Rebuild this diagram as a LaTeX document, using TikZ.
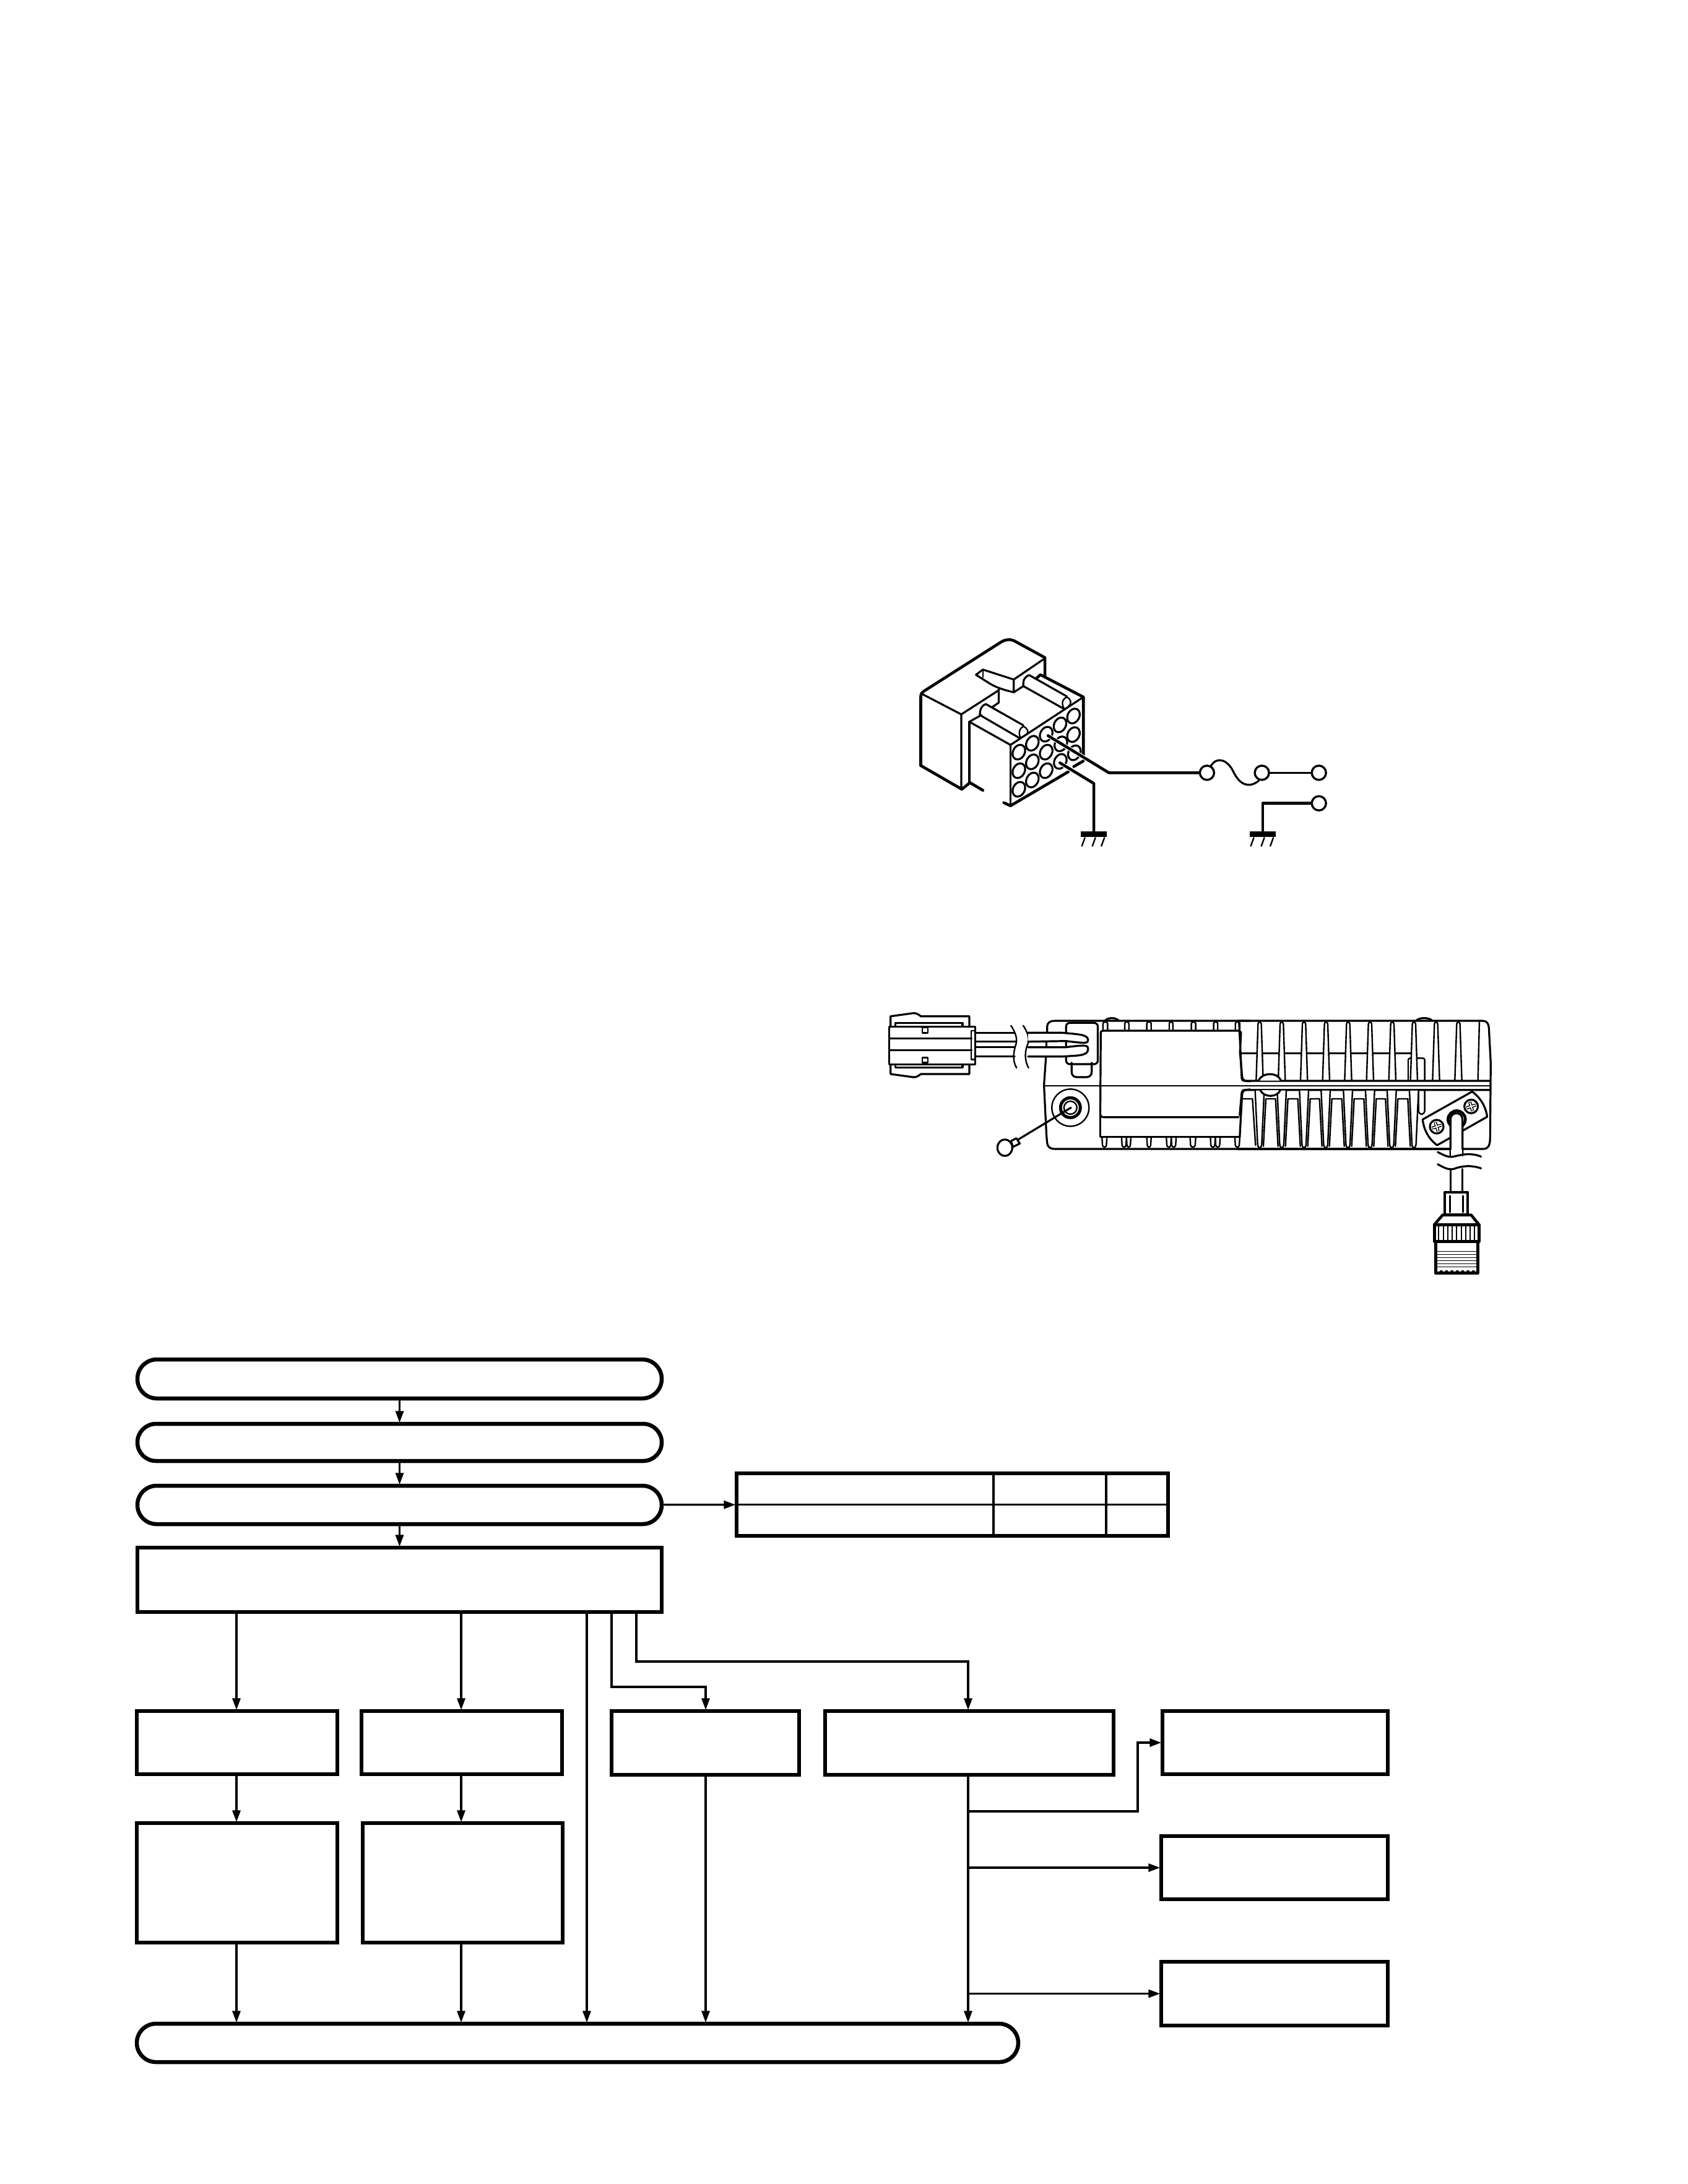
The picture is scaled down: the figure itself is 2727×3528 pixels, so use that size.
\documentclass[tikz,border=0pt]{standalone}
\usetikzlibrary{arrows.meta,shapes.misc}
\tikzset{
  x=1pt,y=-1pt,
  pillbox/.style={rounded rectangle,draw=black,line width=6.5pt,inner sep=0pt,minimum width=847pt},
  blockbox/.style={rectangle,draw=black,line width=6.5pt,inner sep=0pt},
  flow/.style={line width=3.4pt,shorten >=-1.5pt,-{Stealth[length=19pt,width=13pt,inset=0pt]}},
  rule/.style={line width=3.6pt},
  hv/.style={line width=4.6pt,line join=round,line cap=round},
  md/.style={line width=3.2pt,line join=round,line cap=round},
  tn/.style={line width=2.4pt,line join=round,line cap=round},
  terminal/.style={circle,draw=black,line width=3.4pt,minimum size=23pt,inner sep=0pt},
  earthbar/.style={rectangle,fill=black,inner sep=0pt,minimum width=42pt,minimum height=8.5pt},
}
\begin{document}
\begin{tikzpicture}[x=1pt,y=-1pt]
\path[use as bounding box,fill=white] (0,0) rectangle (2727,3528);

% ---- harness plug, fuse and earth terminals ----
\begin{scope}[shift={(1440,1000)},x=0.4847pt,y=-0.3333pt]
  % housing
  \draw[hv] (98,710) -- (98,378) .. controls (98,365) and (100,358) .. (108,350) -- (365,112)
     .. controls (380,98) and (400,95) .. (415,110) -- (512,187) -- (512,280);
  \draw[hv] (98,710) -- (235,825) -- (262,793) -- (305,830);
  \draw[md] (105,365) -- (233,462) -- (233,825);
  \draw[md] (233,462) -- (358,345);
  \draw[md] (358,340) -- (358,405) -- (335,428);
  \draw[md] (260,498) -- (260,790);
  % latch
  \draw[md] (512,190) -- (408,293) -- (408,355);
  \draw[md] (408,293) -- (305,245) -- (282,270) -- (325,310) .. controls (345,328) and (365,340) .. (408,355) -- (440,325);
  \draw[tn] (305,248) -- (305,282);
  % upper guide
  \draw[md] (440,325) .. controls (438,295) and (445,278) .. (460,272) -- (585,375);
  \draw[md] (440,325) -- (575,435);
  \draw[tn] (575,432) .. controls (565,405) and (572,385) .. (585,378) .. controls (600,390) and (602,410) .. (590,422);
  \draw[hv] (485,285) -- (497,270) -- (640,378) -- (640,660);
  % lower guide
  \draw[md] (295,465) .. controls (295,435) and (302,418) .. (315,412) -- (440,515);
  \draw[md] (295,465) -- (425,575);
  \draw[tn] (430,572) .. controls (422,550) and (428,528) .. (440,520) .. controls (455,530) and (460,550) .. (450,560);
  \draw[md] (300,465) -- (260,498) -- (397,610);
  % contact face
  \draw[md] (397,610) -- (640,378);
  \draw[md] (397,610) -- (397,905);
  \draw[hv] (375,890) -- (397,905) -- (590,740);
  \draw[hv] (608,715) -- (640,688);
  \foreach \hx/\hy in {607/470,607/560,562/513,516/558,470/602,425/645,516/645,470/692,425/735,516/735,470/780,425/825,563/690,610/648,565/605}
    \draw[md] (\hx,\hy) ellipse [x radius=12.5pt,y radius=9.5pt,rotate=62];
  % terminals and earth bars
  \node[terminal] (t1) at (1052,745) {};
  \node[terminal] (t2) at (1235,745) {};
  \node[terminal] (t3) at (1425,745) {};
  \node[terminal] (t4) at (1425,893) {};
  \node[earthbar] (g1) at (675,1043) {};
  \node[earthbar] (g2) at (1238,1043) {};
  \coordinate (pinA) at (522,565);
  \coordinate (pinB) at (562,697);
  \coordinate (kneeA) at (725,745);
  \coordinate (kneeB) at (675,797);
  \draw[white,line width=7pt] (pinA) -- (kneeA);
  \draw[white,line width=7pt] (pinB) -- (kneeB);
  \draw[hv] (pinA) -- (kneeA) -- (t1);
  \draw[hv] (pinB) -- (kneeB) -- (g1);
  \draw[md] (t2) -- (t3);
  \draw[hv] (t4) -- (g2 |- t4) -- (g2);
  \draw[md] (t1.60) .. controls (1085,665) and (1120,680) .. (1140,740)
     .. controls (1160,800) and (1190,825) .. (t2.250);
  \foreach \gx in {675,1238} \foreach \dx in {-30,5,35}
    \draw[tn] (\gx+\dx,1060) -- (\gx+\dx-10,1100);
\end{scope}

% ---- radio seen from the rear: left half ----
\begin{scope}[shift={(1400,1600)},x=0.3953pt,y=-0.3333pt]
  % plug on the cable
  \draw[md] (98,170) -- (98,125) -- (190,110) .. controls (200,108) and (210,114) .. (222,125) -- (420,125) -- (420,170);
  \draw[md] (98,358) -- (98,405) -- (190,420) .. controls (200,422) and (210,416) .. (222,405) -- (420,405) -- (420,358);
  \draw[md] (118,170) -- (118,157) -- (392,157) -- (392,170);
  \draw[md] (118,358) -- (118,373) -- (392,373) -- (392,358);
  \draw[md] (92,175) rectangle (443,358);
  \draw[tn] (95,232) -- (430,232);
  \draw[tn] (95,290) -- (430,290);
  \draw[tn] (228,180) rectangle (250,205);
  \draw[tn] (228,325) rectangle (250,350);
  \draw[tn] (428,195) rectangle (443,335);
  % cable with its break marks
  \draw[md] (445,205) -- (605,205);
  \draw[tn] (445,248) -- (610,248);
  \draw[tn] (445,275) -- (605,275);
  \draw[md] (445,320) -- (605,320);
  \draw[tn] (590,170) .. controls (612,210) and (618,240) .. (608,270) .. controls (598,310) and (598,345) .. (613,375);
  \draw[tn] (640,170) .. controls (662,210) and (668,240) .. (655,270) .. controls (645,310) and (648,345) .. (662,375);
  % grommet
  \draw[md,rounded corners=8pt] (838,350) -- (838,420) -- (920,420) -- (920,350);
  \draw[md,rounded corners=6pt] (815,157) rectangle (945,357);
  \draw[md,fill=white] (660,205) -- (800,205) .. controls (860,212) and (905,212) .. (905,240) .. controls (905,255) and (900,258) .. (815,245) -- (660,248);
  \draw[md,fill=white] (660,320) -- (800,320) .. controls (860,315) and (905,318) .. (905,285) .. controls (905,265) and (900,262) .. (815,275) -- (660,275);
  % body outline
  \draw[md] (738,205) -- (738,172) .. controls (740,155) and (750,147) .. (770,147) -- (1568,147);
  \draw[md] (733,322) -- (725,460) -- (735,700) -- (738,740) .. controls (740,758) and (750,768) .. (770,768) -- (1568,768);
  \draw[tn] (735,250) -- (735,275);
  \draw[tn] (725,462) -- (1568,462);
  \draw[md] (975,145) .. controls (990,130) and (1015,130) .. (1030,145);
  % centre panel
  \draw[md] (965,195) -- (1520,195) .. controls (1528,197) and (1530,200) .. (1530,210) -- (1526,300) -- (1535,420) .. controls (1538,435) and (1545,440) .. (1568,440);
  \draw[md] (965,195) .. controls (958,197) and (957,200) .. (957,205) -- (955,600) .. controls (957,610) and (960,614) .. (970,614) -- (1520,614);
  \draw[md] (955,600) -- (955,710) -- (1525,710);
  \draw[md] (1568,480) .. controls (1545,480) and (1538,485) .. (1535,500) -- (1530,600) -- (1525,710);
  \draw[tn] (1532,305) -- (1568,305);
  \draw[tn] (1536,525) -- (1568,525);
  \foreach \fl/\fr in {966/985,1055/1072,1145/1163,1237/1252,1327/1345,1418/1435,1507/1525}
    \draw[tn] (\fl,190) -- (\fl,160) .. controls (\fl,150) and (\fr,150) .. (\fr,160) -- (\fr,190);
  \foreach \fl/\fr in {962/982,1042/1062,1062/1080,1145/1163,1225/1245,1245/1265,1322/1345,1405/1425,1425/1445,1505/1525}
    \draw[tn] (\fl,712) -- (\fl+2,750) .. controls (\fl+3,762) and (\fr-3,762) .. (\fr-2,750) -- (\fr,712);
  % earth screw
  \draw[tn] (833,568) ellipse [x radius=30pt,y radius=30pt];
  \draw[line width=5pt] (833,568) ellipse [x radius=16pt,y radius=16pt];
  \draw[tn] (833,568) ellipse [x radius=10.5pt,y radius=10.5pt];
  \draw[md] (835,568) -- (620,722);
  \draw[md,fill=white] (590,730) -- (612,716) -- (626,742) -- (598,758) -- cycle;
  \draw[md,fill=white] (565,762) ellipse [x radius=12pt,y radius=13.3pt];
\end{scope}

% ---- radio seen from the rear: right half, bracket and antenna lead ----
\begin{scope}[shift={(2000,1600)},x=0.3333pt,y=-0.3333pt]
  % body outline
  \draw[md] (0,147) -- (1185,147) .. controls (1205,147) and (1215,160) .. (1216,180) -- (1225,350) -- (1222,720)
     .. controls (1220,755) and (1210,768) .. (1190,768) -- (1088,768);
  \draw[md] (0,768) -- (1030,768);
  \draw[md] (865,145) .. controls (880,130) and (925,130) .. (940,145);
  % heat-sink fins, upper row
  \draw[tn] (20,305) -- (840,305);
  \foreach \c in {105,212,320,427,534,640,748,960,1068}
    \draw[tn,fill=white] (\c-17,437) -- (\c-8,162) .. controls (\c-6,150) and (\c+6,150) .. (\c+8,162) -- (\c+17,437);
  \draw[tn,rounded corners=3pt] (825,437) -- (825,328) -- (905,328) -- (905,437);
  \draw[tn,fill=white] (853-17,437) -- (853-8,162) .. controls (853-6,150) and (853+6,150) .. (853+8,162) -- (853+17,437);
  \draw[tn] (1170,150) -- (1163,437);
  \draw[md] (5,150) -- (18,425) .. controls (20,435) and (25,438) .. (30,438) -- (1222,438);
  % mid rail
  \draw[tn] (0,462) -- (1222,462);
  \draw[md] (8,605) -- (18,495) .. controls (20,486) and (24,482) .. (30,482) -- (1222,482);
  % heat-sink fins, lower row
  \draw[tn,rounded corners=6pt] (875,482) -- (875,600) -- (905,600) -- (905,482);
  \draw[tn] (25,525) -- (70,525) -- (85,750);
  \foreach \c/\n in {105/212,212/320,320/425,425/533,533/640,640/745,745/853}
    \draw[tn] (\c+18,755) -- (\c+30,525) -- (\n-30,525) -- (\n-18,755);
  \foreach \c in {105,212,320,425,533,640,745,853}
    \draw[tn,fill=white] (\c-22,485) -- (\c-10,745) .. controls (\c-8,768) and (\c+8,768) .. (\c+10,745) -- (\c+22,485);
  % rail notch
  \draw[md,fill=white] (100,437) .. controls (115,395) and (195,395) .. (208,437);
  \draw[md,fill=white] (108,483) .. controls (125,520) and (190,520) .. (205,483);
  % cable clamp
  \draw[md,fill=white] (895,625) -- (1135,490) .. controls (1175,520) and (1200,560) .. (1208,612) -- (965,750)
     .. controls (925,720) and (900,675) .. (895,625) -- cycle;
  \foreach \sx/\sy in {963/660,1130/562} {
    \draw[md] (\sx,\sy) circle [radius=33];
    \draw[line width=5pt] (\sx-22,\sy+7) -- (\sx+22,\sy-7);
    \draw[line width=5pt] (\sx-7,\sy-22) -- (\sx+7,\sy+22);
    \draw[white,line width=2pt] (\sx-20,\sy+6.5) -- (\sx+20,\sy-6.5);
    \draw[white,line width=2pt] (\sx-6.5,\sy-20) -- (\sx+6.5,\sy+20);
  }
  % antenna lead and its break marks
  \draw[line width=4.5pt,fill=white] (1060,625) circle [radius=42];
  \draw[md,fill=white] (1030,800) -- (1030,625) .. controls (1030,585) and (1088,585) .. (1088,625) -- (1088,800);
  \fill[white] (1032,772) rectangle (1086,860);
  \draw[md] (968,783) .. controls (1000,800) and (1020,810) .. (1045,805) .. controls (1085,795) and (1130,785) .. (1178,805);
  \draw[md] (968,842) .. controls (1000,860) and (1020,870) .. (1045,865) .. controls (1085,850) and (1130,845) .. (1178,862);
  \draw[md] (1030,865) -- (1030,978);
  \draw[md] (1088,865) -- (1088,978);
  % antenna connector
  \draw[hv,line cap=butt] (1002,978) rectangle (1113,1087);
  \draw[tn] (1028,995) -- (1028,1075);
  \draw[tn] (1090,995) -- (1090,1075);
  \draw[hv] (992,1088) -- (952,1135) -- (1168,1135) -- (1130,1088) -- cycle;
  \draw[hv,line cap=butt] (952,1135) rectangle (1168,1217);
  \foreach \kx in {973,995,1017,1039,1060,1082,1104,1126,1147}
    \draw[line width=1.8pt] (\kx,1140) -- (\kx,1212);
  \draw[hv,line cap=butt] (958,1217) rectangle (1163,1370);
  \foreach \ry in {1265,1280,1295,1310,1325,1340}
    \draw[line width=1.6pt] (960,\ry) -- (1161,\ry);
  \foreach \bx in {985,1011,1037,1063,1089,1115,1141}
    \fill (\bx-12,1370) .. controls (\bx-6,1350) and (\bx+6,1350) .. (\bx+12,1370) -- cycle;
\end{scope}

% ---- block diagram ----
\node[pillbox,minimum height=63pt] (pillA) at (645.5,2227.5) {};
\node[pillbox,minimum height=60pt] (pillB) at (645.5,2330) {};
\node[pillbox,minimum height=62pt] (pillC) at (645.5,2431) {};
\node[blockbox,minimum width=847pt,minimum height=104pt] (mainbox) at (645.5,2552) {};
\node[blockbox,minimum width=697pt,minimum height=101pt] (tbl) at (1538.5,2430.5) {};

\node[blockbox,minimum width=324pt,minimum height=102pt] (boxA) at (383,2815) {};
\node[blockbox,minimum width=324pt,minimum height=102pt] (boxB) at (746,2815) {};
\node[blockbox,minimum width=303pt,minimum height=103pt] (boxC) at (1139.5,2815.5) {};
\node[blockbox,minimum width=466pt,minimum height=103pt] (boxD) at (1566,2815.5) {};
\node[blockbox,minimum width=364pt,minimum height=102pt] (boxE) at (2060,2815) {};
\node[blockbox,minimum width=366pt,minimum height=102pt] (boxF) at (2059,3017) {};
\node[blockbox,minimum width=366pt,minimum height=103pt] (boxG) at (2059,3220.5) {};
\node[blockbox,minimum width=324pt,minimum height=193pt] (boxH) at (383,3041.5) {};
\node[blockbox,minimum width=323pt,minimum height=193pt] (boxI) at (747.5,3041.5) {};
\node[pillbox,minimum width=1424pt,minimum height=62pt] (pillD) at (933,3300) {};

% table rules
\coordinate (ruleA) at (1605,0);
\coordinate (ruleB) at (1787,0);
\draw[rule] (tbl.north -| ruleA) -- (tbl.south -| ruleA);
\draw[rule] (tbl.north -| ruleB) -- (tbl.south -| ruleB);
\draw[rule] (tbl.west) -- (tbl.east);

% column positions of the vertical connectors
\coordinate (colA) at (382,0);
\coordinate (colB) at (745,0);
\coordinate (colN) at (948,0);
\coordinate (colC) at (988,0);
\coordinate (colD) at (1028,0);
\coordinate (dropC) at (1140,0);
\coordinate (dropD) at (1564,0);
\coordinate (busX) at (1838,0);
\coordinate (tapE) at (0,2926);

\draw[flow] (pillA) -- (pillB);
\draw[flow] (pillB) -- (pillC);
\draw[flow] (pillC) -- (mainbox);
\draw[flow] (pillC) -- (tbl);

\draw[flow] (mainbox.south -| colA) -- (boxA.north -| colA);
\draw[flow] (mainbox.south -| colB) -- (boxB.north -| colB);
\draw[flow] (mainbox.south -| colN) -- (pillD.north -| colN);
\coordinate (levelC) at (0,2725);
\coordinate (levelD) at (0,2684);
\draw[flow] (mainbox.south -| colC) -- (colC |- levelC) -- (dropC |- levelC) -- (boxC.north -| dropC);
\draw[flow] (mainbox.south -| colD) -- (colD |- levelD) -- (dropD |- levelD) -- (boxD.north -| dropD);

\draw[flow] (boxA.south -| colA) -- (boxH.north -| colA);
\draw[flow] (boxB.south -| colB) -- (boxI.north -| colB);
\draw[flow] (boxH.south -| colA) -- (pillD.north -| colA);
\draw[flow] (boxI.south -| colB) -- (pillD.north -| colB);
\draw[flow] (boxC.south -| dropC) -- (pillD.north -| dropC);
\draw[flow] (boxD.south -| dropD) -- (pillD.north -| dropD);

\draw[flow] (dropD |- tapE) -- (busX |- tapE) -- (busX |- boxE.west) -- (boxE.west);
\draw[flow] (dropD |- boxF.west) -- (boxF.west);
\draw[flow] (dropD |- boxG.west) -- (boxG.west);
\end{tikzpicture}
\end{document}
